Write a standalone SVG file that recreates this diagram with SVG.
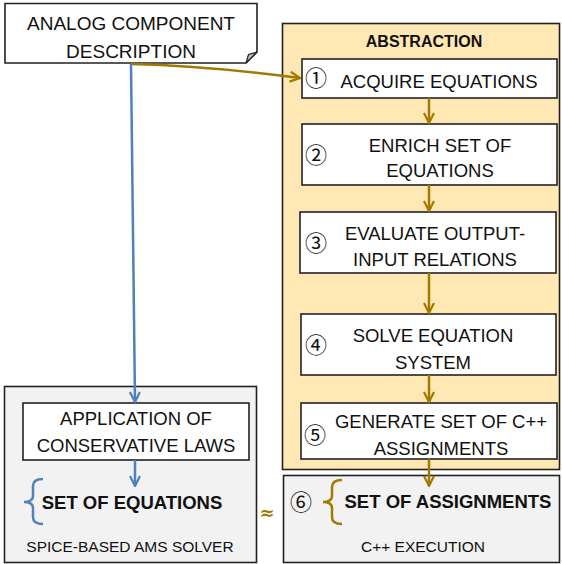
<svg xmlns="http://www.w3.org/2000/svg" width="562" height="564" viewBox="0 0 562 564">
<defs>
<style>
.t{font-family:"Liberation Sans",Arial,sans-serif;font-size:18.5px;fill:#111;text-anchor:middle}
.b{font-weight:bold}
.s{font-size:15.5px}
.c{font-family:"Noto Sans CJK JP","DejaVu Sans",sans-serif;font-size:22px;fill:#111;text-anchor:middle}
.box{fill:#fff;stroke:#222;stroke-width:1.6}
.panel{stroke:#222;stroke-width:1.6}
.gold{stroke:#A17A00;stroke-width:2.5;fill:none}
.blue{stroke:#4F81BD;stroke-width:2.5;fill:none}
</style>
<marker id="ag" viewBox="0 0 12 12" refX="11" refY="6" markerWidth="12" markerHeight="12" markerUnits="userSpaceOnUse" orient="auto"><path d="M1,1 L11,6 L1,11" fill="none" stroke="#A17A00" stroke-width="2.2"/></marker>
<marker id="ab" viewBox="0 0 12 12" refX="11" refY="6" markerWidth="12" markerHeight="12" markerUnits="userSpaceOnUse" orient="auto"><path d="M1,1 L11,6 L1,11" fill="none" stroke="#4F81BD" stroke-width="2.2"/></marker>
</defs>

<g id="abstraction">
<rect class="panel" x="282.5" y="23.5" width="277" height="446" fill="#FFE8B3"/>
<text class="t b" x="424" y="47" style="font-size:16px">ABSTRACTION</text>
</g>

<g id="spice">
<rect class="panel" x="4.5" y="386.5" width="252" height="176" fill="#F2F2F2"/>
<text class="t s" x="130" y="552">SPICE-BASED AMS SOLVER</text>
</g>

<g id="cpp">
<rect class="panel" x="283.5" y="475.5" width="276" height="87" fill="#F2F2F2"/>
<text class="t s" x="423" y="552">C++ EXECUTION</text>
</g>

<g id="note">
<path d="M5,3.5 H257 V52 L246,63 H5 Z" fill="#fff" stroke="#222" stroke-width="1.6"/>
<path d="M246,63 L248.5,54.5 L257,52 Z" fill="#bbb" stroke="#222" stroke-width="1.2"/>
<text class="t" x="131" y="30" style="font-size:19px">ANALOG COMPONENT</text>
<text class="t" x="131" y="58" style="font-size:19px">DESCRIPTION</text>
</g>

<g id="step1">
<rect class="box" x="302" y="59" width="255" height="39"/>
<text class="c" x="316" y="86">①</text>
<text class="t" x="439" y="88">ACQUIRE EQUATIONS</text>
</g>

<g id="step2">
<rect class="box" x="302" y="124" width="255" height="61"/>
<text class="c" x="316" y="163">②</text>
<text class="t" x="440" y="152">ENRICH SET OF</text>
<text class="t" x="440" y="177">EQUATIONS</text>
</g>

<g id="step3">
<rect class="box" x="300" y="212" width="256" height="61"/>
<text class="c" x="316" y="251">③</text>
<text class="t" x="435" y="240">EVALUATE OUTPUT-</text>
<text class="t" x="435" y="266">INPUT RELATIONS</text>
</g>

<g id="step4">
<rect class="box" x="301" y="314" width="255" height="61"/>
<text class="c" x="316" y="353">④</text>
<text class="t" x="433" y="342">SOLVE EQUATION</text>
<text class="t" x="433" y="369">SYSTEM</text>
</g>

<g id="step5">
<rect class="box" x="301" y="403" width="256" height="56"/>
<text class="c" x="315" y="443">⑤</text>
<text class="t" x="441" y="428">GENERATE SET OF C++</text>
<text class="t" x="441" y="455">ASSIGNMENTS</text>
</g>

<g id="step6">
<text class="c" x="301" y="510">⑥</text>
<path class="gold" d="M342,480 Q332,480 332,487 L332,496 Q332,502 323,502 Q332,502 332,508 L332,517 Q332,524 342,524"/>
<text class="t b" x="448" y="508">SET OF ASSIGNMENTS</text>
</g>

<g id="conservative">
<rect class="box" x="23" y="403" width="226" height="57"/>
<text class="t" x="136" y="425">APPLICATION OF</text>
<text class="t" x="136" y="452">CONSERVATIVE LAWS</text>
</g>

<g id="equations">
<path class="blue" d="M43,479 Q33,479 33,486 L33,496 Q33,502 24,502 Q33,502 33,508 L33,517 Q33,524 43,524"/>
<text class="t b" x="132" y="509">SET OF EQUATIONS</text>
</g>

<g id="approx">
<text x="267" y="519" style="font-family:'DejaVu Sans',sans-serif;font-size:18px;font-weight:bold;fill:#A17A00;text-anchor:middle">≈</text>
</g>

<g id="connectors">
<path class="gold" d="M131,64 Q210,66 300,78" marker-end="url(#ag)"/>
<path class="gold" d="M429,98 V123" marker-end="url(#ag)"/>
<path class="gold" d="M429,185 V211" marker-end="url(#ag)"/>
<path class="gold" d="M429,273 V313" marker-end="url(#ag)"/>
<path class="gold" d="M429,375 V402" marker-end="url(#ag)"/>
<path class="gold" d="M429,459 V486" marker-end="url(#ag)"/>
<path class="blue" d="M131,64 L135,402" marker-end="url(#ab)"/>
<path class="blue" d="M135,460 V486" marker-end="url(#ab)"/>
</g>
</svg>
